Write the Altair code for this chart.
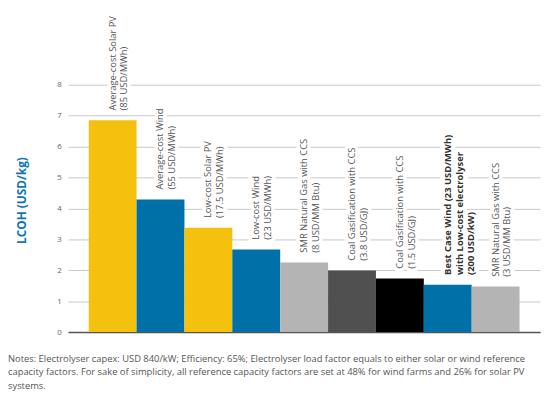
import altair as alt
import pandas as pd

labels = [
    "Average-cost Solar PV\n(85 USD/MWh)",
    "Average-cost Wind\n(55 USD/MWh)",
    "Low-cost  Solar PV\n(17.5 USD/MWh)",
    "Low-cost Wind\n(23 USD/MWh)",
    "SMR Natural Gas with CCS\n(8 USD/MM Btu)",
    "Coal Gasification with CCS\n(3.8 USD/GJ)",
    "Coal Gasification with CCS\n(1.5 USD/GJ)",
    "Best Case Wind (23 USD/MWh)\nwith Low-cost electrolyser\n(200 USD/kW)",
    "SMR Natural Gas with CCS\n(3 USD/MM Btu)",
]
values = [6.85, 4.29, 3.37, 2.67, 2.25, 1.99, 1.73, 1.53, 1.47]
colors = ["#F4C10F", "#0070A8", "#F4C10F", "#0070A8", "#B4B4B4",
          "#505050", "#000000", "#0070A8", "#B4B4B4"]
bold = [False, False, False, False, False, False, False, True, False]
y_ticks = [0, 1, 2, 3, 4, 5, 6, 7, 8]
note = ("Notes: Electrolyser capex: USD 840/kW; Efficiency: 65%; Electrolyser load factor equals to either solar or wind reference\n"
        "capacity factors. For sake of simplicity, all reference capacity factors are set at 48% for wind farms and 26% for solar PV\n"
        "systems.")

df = pd.DataFrame({
    "id": [f"b{i}" for i in range(len(labels))],
    "label": labels,
    "value": values,
    "color": colors,
    "bold": bold,
})

FONT = "Open Sans"
x = alt.X("id:N", sort=None, axis=alt.Axis(labels=False, ticks=False, title=None,
                                           domainColor="#555555", domainWidth=1.5),
          scale=alt.Scale(paddingInner=0, paddingOuter=0.43))
y = alt.Y("value:Q", scale=alt.Scale(domain=[0, 8], nice=False),
          axis=alt.Axis(values=y_ticks, tickCount=9, labelOverlap=False,
                        title="LCOH (USD/kg)", domain=False, ticks=False,
                        gridColor="#C8C8C8", gridWidth=1, labelColor="#666666",
                        labelFontSize=8, labelFont=FONT, labelPadding=7,
                        titleFont=FONT, titleFontSize=12, titleFontWeight="bold",
                        titleColor="#0F76B8", titleAngle=270, titleX=-47, titleY=117,
                        titleAlign="center", titleBaseline="middle"))

base = alt.Chart(df)
bars = base.mark_bar().encode(x=x, y=y, color=alt.Color("color:N", scale=None))

txt_kw = dict(angle=270, align="left", baseline="middle", dx=10, lineBreak="\n",
              lineHeight=12, fontSize=9.5, font=FONT)
halo = base.mark_text(stroke="white", strokeWidth=7, fill="white", **txt_kw).encode(
    x=x, y=y, text="label:N")
lab_n = base.transform_filter("!datum.bold").mark_text(color="#555555", **txt_kw).encode(
    x=x, y=y, text="label:N")
lab_b = base.transform_filter("datum.bold").mark_text(color="#333333", fontWeight="bold", **txt_kw).encode(
    x=x, y=y, text="label:N")

notes = alt.Chart(pd.DataFrame({"t": [note]})).mark_text(
    align="left", baseline="alphabetic", fontSize=9.5, font=FONT, color="#555555",
    lineBreak="\n", lineHeight=13.5).encode(
    x=alt.value(-61), y=alt.value(281.5), text="t:N")

chart = alt.layer(bars, halo, lab_n, lab_b, notes).properties(
    width=479, height=251,
    autosize=alt.AutoSizeParams(type="none"),
    padding={"left": 61, "top": 75, "right": 10, "bottom": 60},
).configure_view(stroke=None)

chart.save("out.html", embed_options={"renderer": "svg", "actions": False})
